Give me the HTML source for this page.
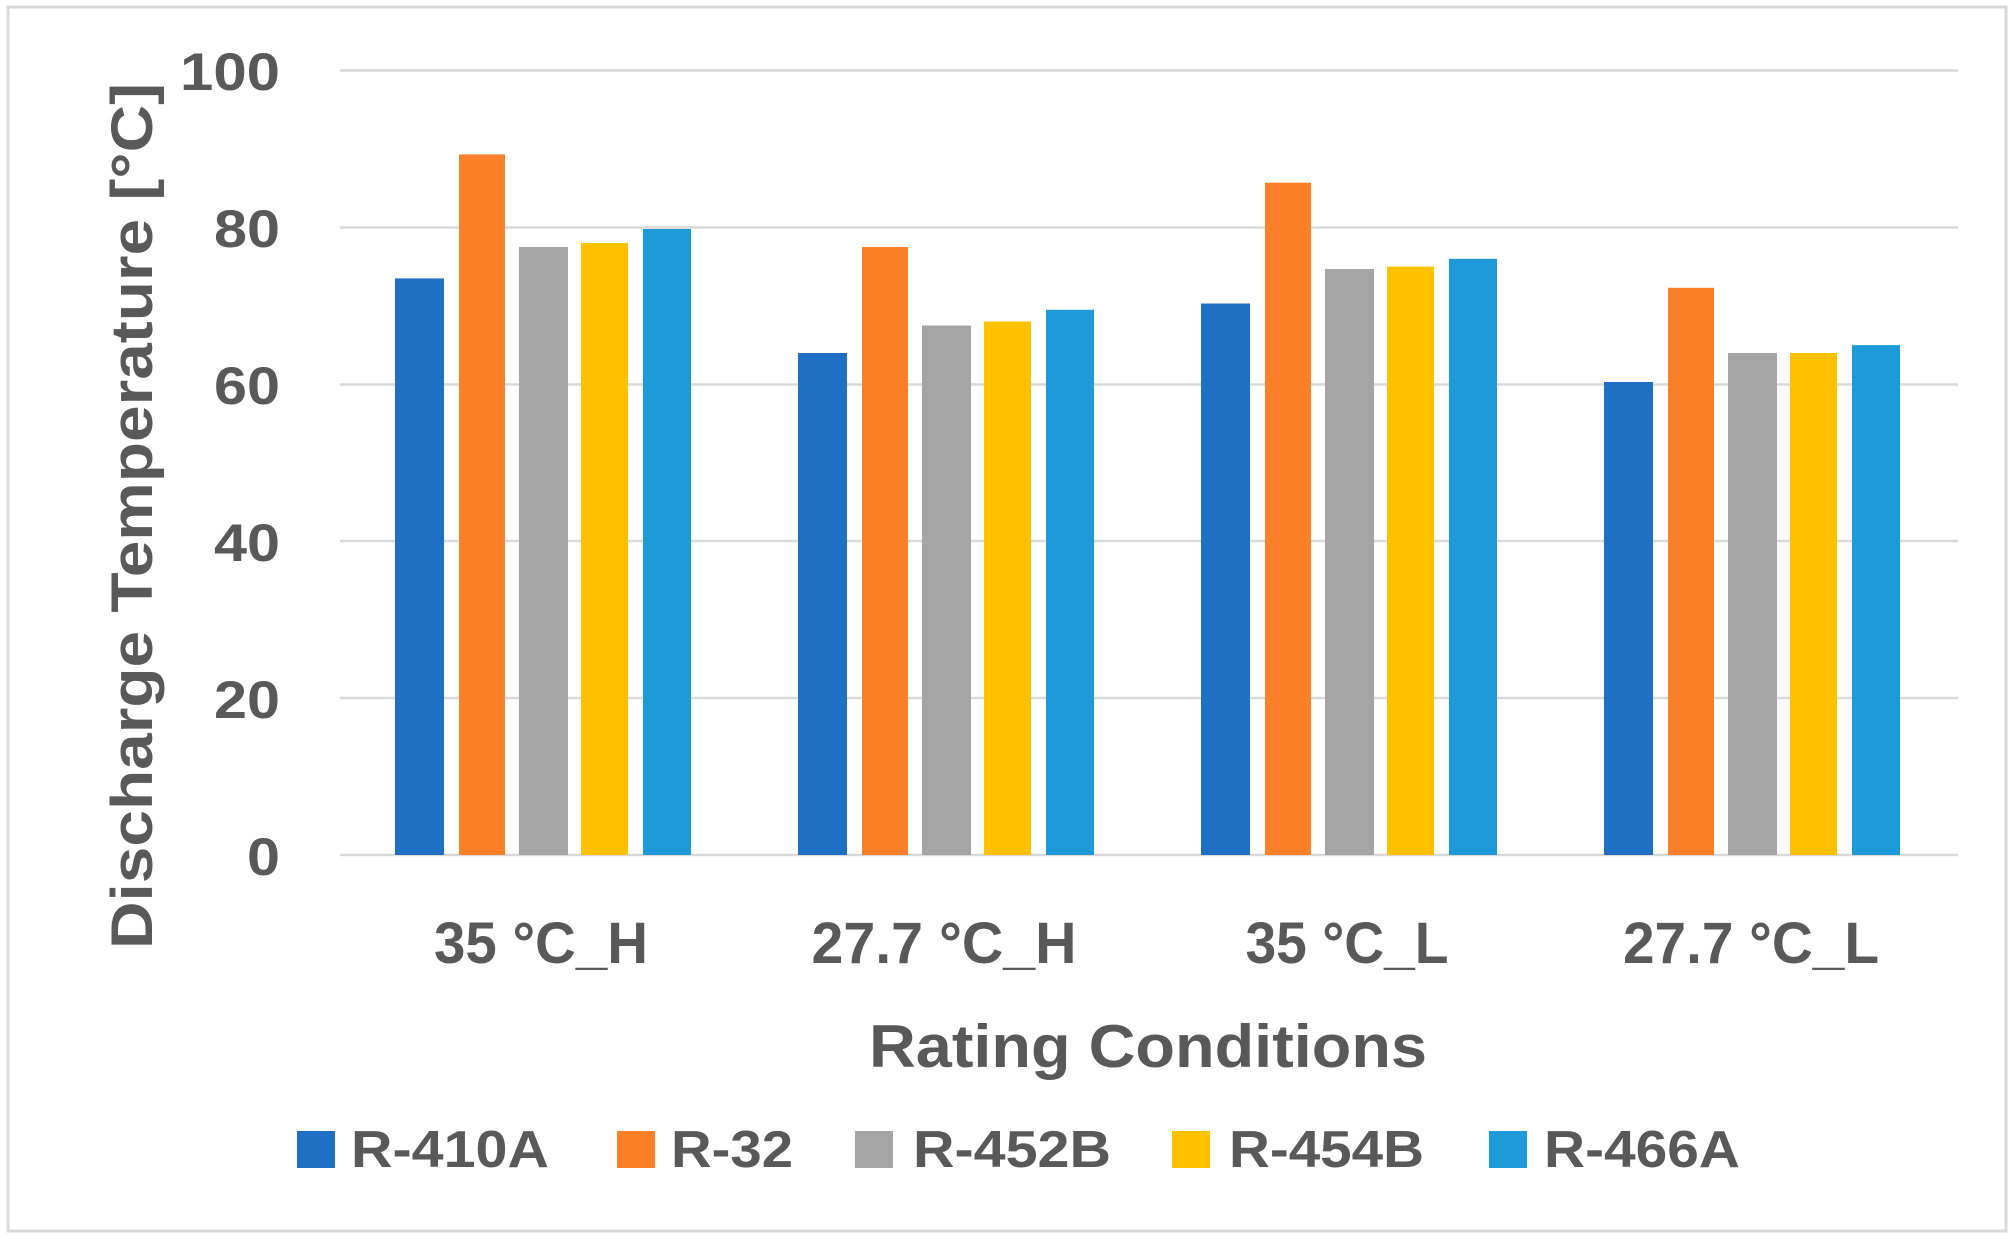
<!DOCTYPE html>
<html><head><meta charset="utf-8"><style>html,body{margin:0;padding:0;background:#fff}</style></head>
<body>
<svg width="2011" height="1237" viewBox="0 0 2011 1237" xmlns="http://www.w3.org/2000/svg" font-family="'Liberation Sans', sans-serif" font-weight="bold" fill="#595959">
<rect x="0" y="0" width="2011" height="1237" fill="#fff"/>
<rect x="8" y="7" width="1998" height="1224" fill="none" stroke="#d9d9d9" stroke-width="3"/>
<g stroke="#d9d9d9" stroke-width="2.5">
<line x1="340" x2="1958" y1="70.5" y2="70.5"/>
<line x1="340" x2="1958" y1="227.5" y2="227.5"/>
<line x1="340" x2="1958" y1="384.5" y2="384.5"/>
<line x1="340" x2="1958" y1="541" y2="541"/>
<line x1="340" x2="1958" y1="698" y2="698"/>
<line x1="340" x2="1958" y1="855" y2="855"/>
</g>
<g font-size="53" text-anchor="end">
<text x="280" y="90" textLength="100" lengthAdjust="spacingAndGlyphs">100</text>
<text x="280" y="247" textLength="66" lengthAdjust="spacingAndGlyphs">80</text>
<text x="280" y="404" textLength="66" lengthAdjust="spacingAndGlyphs">60</text>
<text x="280" y="561" textLength="66" lengthAdjust="spacingAndGlyphs">40</text>
<text x="280" y="718" textLength="66" lengthAdjust="spacingAndGlyphs">20</text>
<text x="280" y="875" textLength="33" lengthAdjust="spacingAndGlyphs">0</text>
</g>
<text transform="translate(152,949) rotate(-90)" font-size="58" textLength="866" lengthAdjust="spacingAndGlyphs">Discharge Temperature [°C]</text>
<g font-size="58" text-anchor="middle">
<text x="541" y="963" textLength="214" lengthAdjust="spacingAndGlyphs">35 °C_H</text>
<text x="944" y="963" textLength="265" lengthAdjust="spacingAndGlyphs">27.7 °C_H</text>
<text x="1347" y="963" textLength="203" lengthAdjust="spacingAndGlyphs">35 °C_L</text>
<text x="1751" y="963" textLength="256" lengthAdjust="spacingAndGlyphs">27.7 °C_L</text>
</g>
<text x="1148" y="1067" font-size="60" text-anchor="middle" textLength="558" lengthAdjust="spacingAndGlyphs">Rating Conditions</text>
<g font-size="52">
<rect x="297" y="1131" width="38" height="37" fill="#1f6fc5"/><text x="351" y="1167" textLength="198" lengthAdjust="spacingAndGlyphs">R-410A</text>
<rect x="617" y="1131" width="38" height="37" fill="#fd7f27"/><text x="671" y="1167" textLength="122" lengthAdjust="spacingAndGlyphs">R-32</text>
<rect x="855" y="1131" width="38" height="37" fill="#a5a5a5"/><text x="913" y="1167" textLength="198" lengthAdjust="spacingAndGlyphs">R-452B</text>
<rect x="1172" y="1131" width="38" height="37" fill="#ffc000"/><text x="1229" y="1167" textLength="195" lengthAdjust="spacingAndGlyphs">R-454B</text>
<rect x="1489" y="1131" width="38" height="37" fill="#1e9ad8"/><text x="1544" y="1167" textLength="196" lengthAdjust="spacingAndGlyphs">R-466A</text>
</g>
<g>
<rect x="395" y="278.4" width="49" height="576.6" fill="#1f6fc5"/>
<rect x="459" y="154.4" width="46" height="700.6" fill="#fd7f27"/>
<rect x="519" y="247" width="49" height="608" fill="#a5a5a5"/>
<rect x="581" y="243.1" width="47" height="611.9" fill="#ffc000"/>
<rect x="643" y="229" width="48" height="626" fill="#1e9ad8"/>
<rect x="798" y="353" width="49" height="502" fill="#1f6fc5"/>
<rect x="862" y="247" width="46" height="608" fill="#fd7f27"/>
<rect x="922" y="325.5" width="49" height="529.5" fill="#a5a5a5"/>
<rect x="984" y="321.5" width="47" height="533.5" fill="#ffc000"/>
<rect x="1046" y="309.8" width="48" height="545.2" fill="#1e9ad8"/>
<rect x="1201" y="303.5" width="49" height="551.5" fill="#1f6fc5"/>
<rect x="1265" y="182.7" width="46" height="672.3" fill="#fd7f27"/>
<rect x="1325" y="269" width="49" height="586" fill="#a5a5a5"/>
<rect x="1387" y="266.6" width="47" height="588.4" fill="#ffc000"/>
<rect x="1449" y="258.8" width="48" height="596.2" fill="#1e9ad8"/>
<rect x="1604" y="382" width="49" height="473" fill="#1f6fc5"/>
<rect x="1668" y="287.8" width="46" height="567.2" fill="#fd7f27"/>
<rect x="1728" y="353" width="49" height="502" fill="#a5a5a5"/>
<rect x="1790" y="353" width="47" height="502" fill="#ffc000"/>
<rect x="1852" y="345.1" width="48" height="509.9" fill="#1e9ad8"/>
</g>
</svg>
</body></html>
